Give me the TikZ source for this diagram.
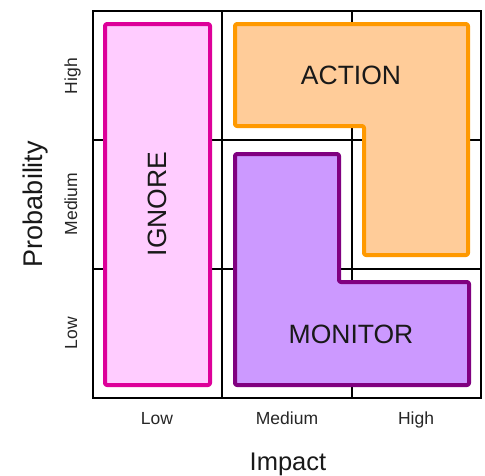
\documentclass[tikz,border=0pt]{standalone}
\usepackage{fontspec}
\setmainfont{Liberation Sans}
\usetikzlibrary{positioning}

\definecolor{ignorefill}{HTML}{FFCCFF}
\definecolor{ignoreline}{HTML}{DD0099}
\definecolor{actionfill}{HTML}{FFCC99}
\definecolor{actionline}{HTML}{FF9900}
\definecolor{monitorfill}{HTML}{CC99FF}
\definecolor{monitorline}{HTML}{800080}

\tikzset{
  gridline/.style={line width=2pt, black},
  zone/.style={line width=4pt, rounded corners=2pt, line join=round},
  zonelabel/.style={font=\fontsize{26.5}{30}\selectfont, text=black!90},
  ticklabel/.style={font=\fontsize{17.5}{21}\selectfont, text=black!85, anchor=base},
  axislabel/.style={font=\fontsize{25.5}{30}\selectfont, text=black!90, anchor=base}
}

\begin{document}
\begin{tikzpicture}[x=1pt, y=-1pt]
\useasboundingbox (0,0) rectangle (485,475);

% grid
\draw [gridline] (93,11) rectangle (481,398);
\draw [gridline] (222,11) -- (222,398);
\draw [gridline] (352,11) -- (352,398);
\draw [gridline] (93,140) -- (481,140);
\draw [gridline] (93,269) -- (481,269);

% zones
\draw [zone, draw=ignoreline, fill=ignorefill] (105,24) rectangle (210,385);
\draw [zone, draw=actionline, fill=actionfill]
  (235,24) -- (468,24) -- (468,255) -- (364,255) -- (364,126) -- (235,126) -- cycle;
\draw [zone, draw=monitorline, fill=monitorfill]
  (235,154) -- (339,154) -- (339,282) -- (469,282) -- (469,385) -- (235,385) -- cycle;

\node [zonelabel, rotate=90] (ignore) at (157,204) {IGNORE};
\node [zonelabel] (action) at (351,75) {ACTION};
\node [zonelabel] (monitor) at (351,334) {MONITOR};

% axes
\node [ticklabel] (xlow) at (157,424) {Low};
\node [ticklabel] (xmed) at (287,424) {Medium};
\node [ticklabel] (xhigh) at (416,424) {High};
\node [axislabel] (impact) at (288,470) {Impact};

\node [ticklabel, rotate=90] (ylow) at (77,333) {Low};
\node [ticklabel, rotate=90] (ymed) at (77,204) {Medium};
\node [ticklabel, rotate=90] (yhigh) at (77,76) {High};
\node [axislabel, rotate=90, font=\fontsize{27}{30}\selectfont] (prob) at (42,204) {Probability};
\end{tikzpicture}
\end{document}
